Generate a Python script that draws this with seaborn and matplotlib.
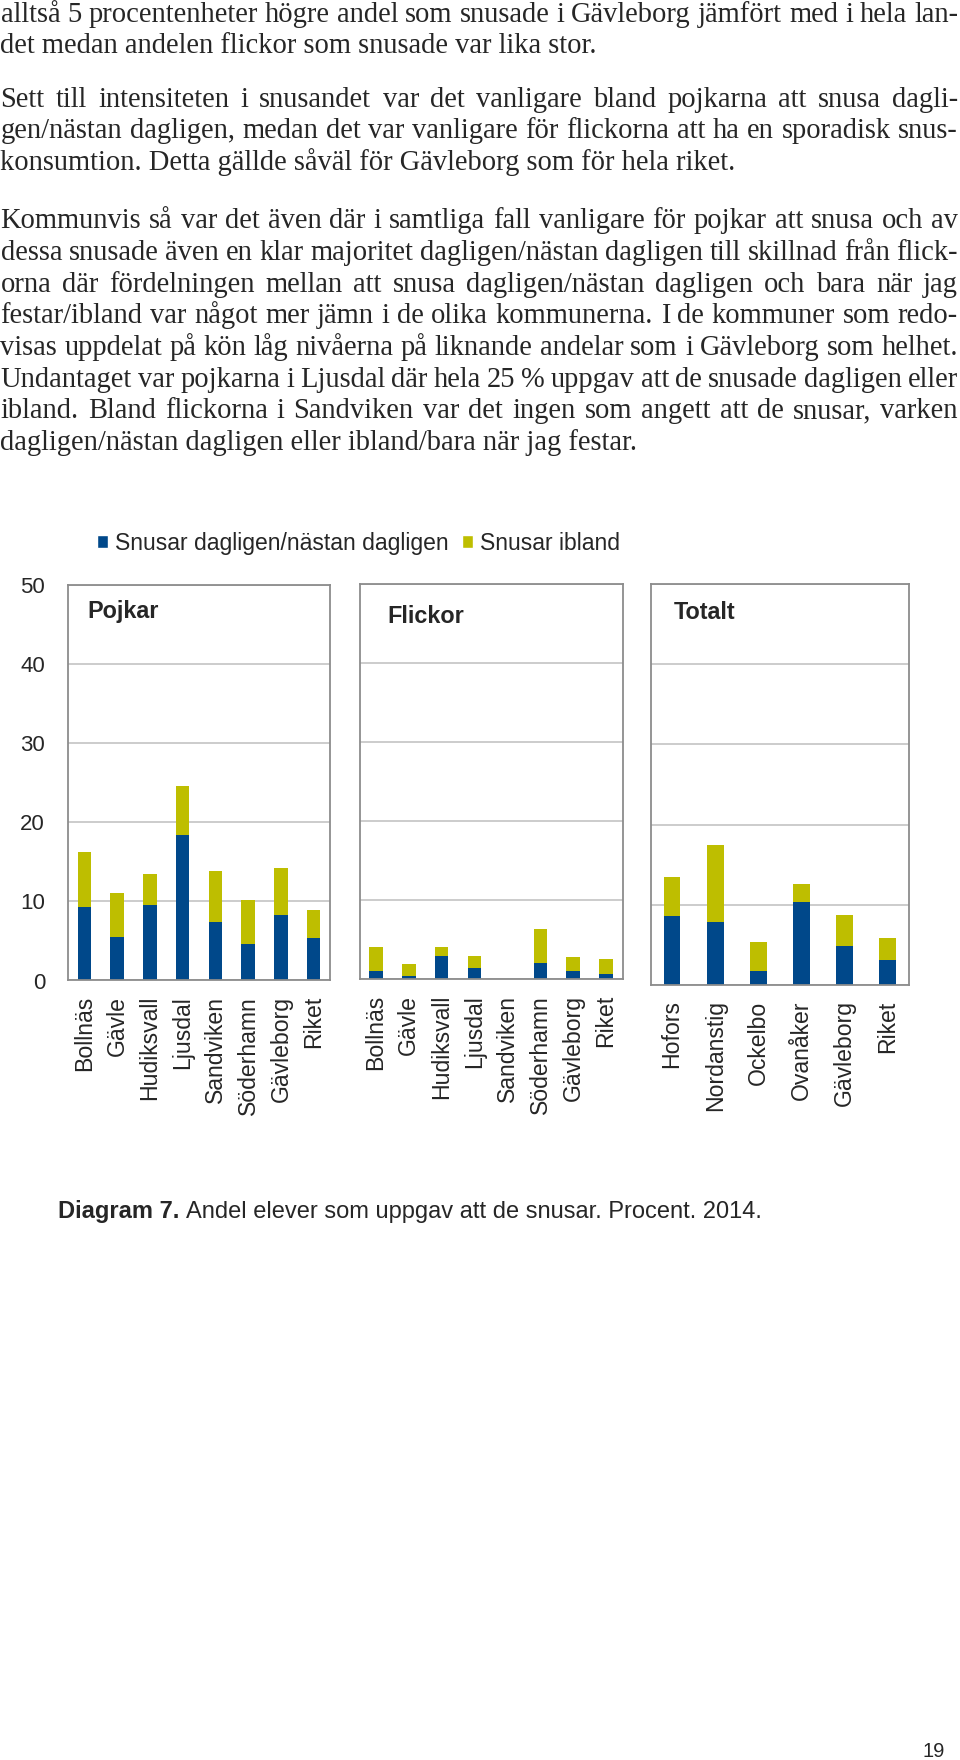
import matplotlib
matplotlib.use("Agg")
import matplotlib.pyplot as plt
from matplotlib.patches import Patch
import seaborn as sns

# --- data (procent) ---
pojkar_kommuner = ["Bollnäs", "Gävle", "Hudiksvall", "Ljusdal", "Sandviken", "Söderhamn", "Gävleborg", "Riket"]
pojkar_daglig = [9.35, 5.5, 9.6, 18.4, 7.4, 4.6, 8.3, 5.4]
pojkar_ibland = [6.85, 5.6, 3.9, 6.2, 6.45, 5.55, 5.9, 3.5]

flickor_kommuner = ["Bollnäs", "Gävle", "Hudiksvall", "Ljusdal", "Sandviken", "Söderhamn", "Gävleborg", "Riket"]
flickor_daglig = [1.05, 0.5, 2.95, 1.45, 0.0, 2.1, 1.1, 0.7]
flickor_ibland = [3.1, 1.5, 1.2, 1.5, 0.0, 4.3, 1.8, 1.85]

totalt_kommuner = ["Hofors", "Nordanstig", "Ockelbo", "Ovanåker", "Gävleborg", "Riket"]
totalt_daglig = [8.6, 7.8, 1.75, 10.3, 4.8, 3.1]
totalt_ibland = [4.9, 9.6, 3.6, 2.3, 3.9, 2.75]

serie_namn = ["Snusar dagligen/nästan dagligen", "Snusar ibland"]
y_ticks = [0, 10, 20, 30, 40, 50]

stycke1 = [
    "alltså 5 procentenheter högre andel som snusade i Gävleborg jämfört med i hela lan-",
    "det medan andelen flickor som snusade var lika stor.",
]
stycke2 = [
    "Sett till intensiteten i snusandet var det vanligare bland pojkarna att snusa dagli-",
    "gen/nästan dagligen, medan det var vanligare för flickorna att ha en sporadisk snus-",
    "konsumtion. Detta gällde såväl för Gävleborg som för hela riket.",
]
stycke3 = [
    "Kommunvis så var det även där i samtliga fall vanligare för pojkar att snusa och av",
    "dessa snusade även en klar majoritet dagligen/nästan dagligen till skillnad från flick-",
    "orna där fördelningen mellan att snusa dagligen/nästan dagligen och bara när jag",
    "festar/ibland var något mer jämn i de olika kommunerna. I de kommuner som redo-",
    "visas uppdelat på kön låg nivåerna på liknande andelar som i Gävleborg som helhet.",
    "Undantaget var pojkarna i Ljusdal där hela 25 % uppgav att de snusade dagligen eller",
    "ibland. Bland flickorna i Sandviken var det ingen som angett att de snusar, varken",
    "dagligen/nästan dagligen eller ibland/bara när jag festar.",
]

BLUE = "#00488A"
YELLOW = "#BEBE00"
GRID = "#C8C8C8"
FRAME = "#8C8C8C"
SANS = "Liberation Sans"
SERIF = "Liberation Serif"

W, H = 960, 1760
sns.set_style("white")
plt.rcParams["font.family"] = [SANS, "DejaVu Sans"]

fig = plt.figure(figsize=(W / 100, H / 100), dpi=100)
renderer = fig.canvas.get_renderer()


def rect(x0, y0, x1, y1):
    return [x0 / W, 1 - y1 / H, (x1 - x0) / W, (y1 - y0) / H]


def fy(y):
    return 1 - y / H


def text_width(s, **kw):
    t = fig.text(0, 0, s, **kw)
    w = t.get_window_extent(renderer).width
    t.remove()
    return w


# --- brödtext, marginaljusterad ---
RIGHT = 958
fs_body = 12 * 597 / text_width(stycke1[1], fontsize=12, family=SERIF)
LS = 31.7


def paragraph(lines, y0):
    for k, line in enumerate(lines):
        y = y0 + k * LS
        if k == len(lines) - 1:
            fig.text(0.5 / W, fy(y), line, fontsize=fs_body, family=SERIF, va="baseline")
            continue
        words = line.split(" ")
        widths = [text_width(w, fontsize=fs_body, family=SERIF) for w in words]
        gap = (RIGHT - 0.5 - sum(widths)) / (len(words) - 1)
        x = 0.5
        for w, wd in zip(words, widths):
            fig.text(x / W, fy(y), w, fontsize=fs_body, family=SERIF, va="baseline")
            x += wd + gap


paragraph(stycke1, 21.7)
paragraph(stycke2, 106.7)
paragraph(stycke3, 228.3)


# --- diagram ---
def panel(box, cats, daglig, ibland, bar_w, title, tx, tby, first):
    ax = fig.add_axes(rect(*box))
    totals = [d + i for d, i in zip(daglig, ibland)]
    sns.barplot(x=cats, y=totals, color=YELLOW, saturation=1, width=bar_w,
                errorbar=None, linewidth=0, ax=ax)
    sns.barplot(x=cats, y=daglig, color=BLUE, saturation=1, width=bar_w,
                errorbar=None, linewidth=0, ax=ax)
    ax.set_xlim(-0.5, len(cats) - 0.5)
    ax.set_ylim(0, 50)
    ax.set_yticks(y_ticks)
    ax.set_xticks(range(len(cats)))
    ax.set_xticklabels(cats, rotation=90, fontsize=16.6)
    ax.yaxis.grid(True, color=GRID, lw=1.3)
    ax.set_axisbelow(True)
    ax.set_xlabel("")
    ax.set_ylabel("")
    ax.tick_params(axis="x", length=0, pad=11.2)
    ax.tick_params(axis="y", length=0, pad=16.5, labelsize=16, labelleft=first)
    for sp in ax.spines.values():
        sp.set_visible(True)
        sp.set_color(FRAME)
        sp.set_linewidth(1.3)
    fig.text(tx / W, fy(tby), title, fontsize=16.8, fontweight="bold", va="baseline")
    return ax


panel((68, 585, 330, 980.5), pojkar_kommuner, pojkar_daglig, pojkar_ibland,
      0.41, "Pojkar", 87.6, 618.3, True)
panel((359.5, 583.7, 622.5, 979.5), flickor_kommuner, flickor_daglig, flickor_ibland,
      0.41, "Flickor", 387, 623.3, False)
panel((650.5, 584.3, 909.3, 984.7), totalt_kommuner, totalt_daglig, totalt_ibland,
      0.39, "Totalt", 673.6, 619, False)

handles = [Patch(facecolor=BLUE, label=serie_namn[0]),
           Patch(facecolor=YELLOW, label=serie_namn[1])]
fig.legend(handles=handles, loc="center left", bbox_to_anchor=(97 / W, fy(543)),
           ncol=2, frameon=False, fontsize=16.5, handlelength=0.5, handleheight=0.5,
           handletextpad=0.3, columnspacing=0.55, borderpad=0, borderaxespad=0)

# --- figurtext och sidnummer ---
cap_bold = "Diagram 7."
cap_rest = "Andel elever som uppgav att de snusar. Procent. 2014."
fig.text(58 / W, fy(1218.3), cap_bold, fontsize=17, fontweight="bold", va="baseline")
bw = text_width(cap_bold, fontsize=17, fontweight="bold")
sw = text_width("a a", fontsize=17) - text_width("aa", fontsize=17)
fig.text((58 + bw + sw) / W, fy(1218.3), cap_rest, fontsize=17, va="baseline")

fig.text(945 / W, fy(1757), "19", fontsize=14.5, ha="right", va="baseline")

fig.savefig("out.png", dpi=100)
